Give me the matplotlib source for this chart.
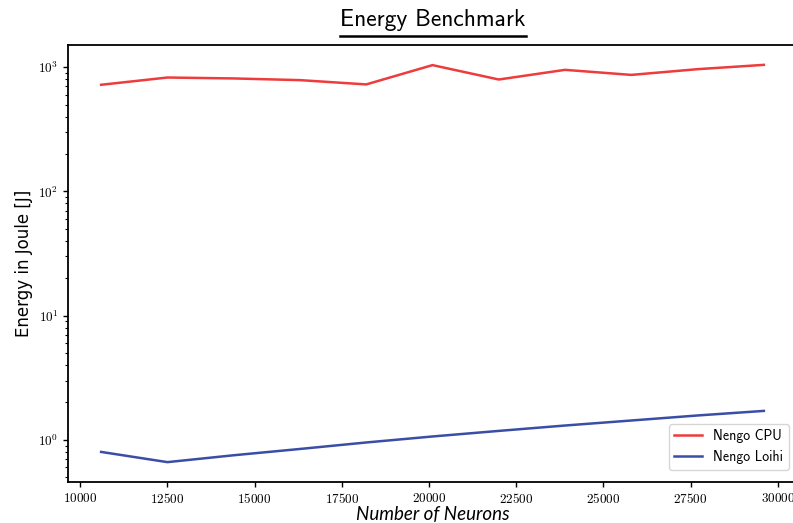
import math

import matplotlib
matplotlib.use("Agg")
import matplotlib.pyplot as plt
from matplotlib.ticker import FuncFormatter, FixedLocator
from matplotlib.lines import Line2D

# number of neurons per run
neurons = [10600, 12500, 14400, 16300, 18200, 20100, 22000, 23900, 25800, 27700, 29600]
# energy in joule
energy_cpu = [721, 825, 811, 786, 726, 1038, 795, 951, 866, 963, 1043]
energy_loihi = [0.80, 0.662, 0.752, 0.845, 0.953, 1.065, 1.181, 1.305, 1.432, 1.572, 1.711]
xticks = [10000, 12500, 15000, 17500, 20000, 22500, 25000, 27500, 30000]

plt.rcParams["mathtext.fontset"] = "cm"

fig = plt.figure(figsize=(7.93, 5.23), dpi=100)
ax = fig.add_axes([68 / 793, 1 - 482 / 523, (797 - 68) / 793, (482 - 45) / 523])

ax.plot(neurons, energy_cpu, color="#ee3b3b", lw=1.8, label="Nengo CPU")
ax.plot(neurons, energy_loihi, color="#3b4ea6", lw=1.8, label="Nengo Loihi")
ax.set_yscale("log")

ax.xaxis.set_major_locator(FixedLocator(xticks))
ax.xaxis.set_major_formatter(FuncFormatter(lambda v, p: r"$%d$" % v))
ax.yaxis.set_major_formatter(FuncFormatter(lambda v, p: r"$10^{%d}$" % round(math.log10(v))))
ax.tick_params(labelsize=9.5, width=1.0, length=3.5)
ax.tick_params(which="minor", width=0.8, length=2)
for s in ax.spines.values():
    s.set_linewidth(1.3)

ax.set_xlabel("Number of Neurons", fontsize=13.5, family="Lato", style="italic", labelpad=0)
ax.set_ylabel("Energy in Joule [J]", fontsize=12, family="DejaVu Sans", labelpad=4)

leg = ax.legend(loc="lower right", prop={"family": "cmss10", "size": 10},
                frameon=True, fancybox=True, edgecolor="#cccccc",
                bbox_to_anchor=(0.998, 0.012))

title = fig.text(433 / 793, 1 - 20 / 523, "Energy Benchmark", ha="center", va="center",
                 family="cmss10", fontsize=17)
fig.canvas.draw()
bb = title.get_window_extent().transformed(fig.transFigure.inverted())
ybar = 1 - 36 / 523
fig.add_artist(Line2D([bb.x0, bb.x1], [ybar, ybar], color="black", lw=1.8,
                      transform=fig.transFigure))

fig.savefig("out.png", dpi=100)
